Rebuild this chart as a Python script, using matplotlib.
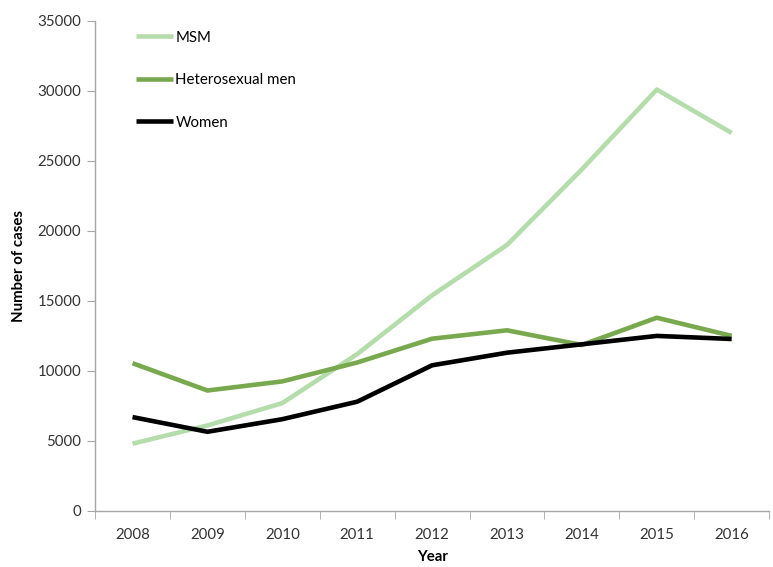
import matplotlib.pyplot as plt
from matplotlib.ticker import FixedLocator

years = ["2008", "2009", "2010", "2011", "2012", "2013", "2014", "2015", "2016"]
msm = [4800, 6100, 7700, 11200, 15400, 19000, 24400, 30100, 27000]
hetero_men = [10550, 8600, 9250, 10600, 12300, 12900, 11850, 13800, 12500]
women = [6700, 5650, 6550, 7800, 10400, 11300, 11900, 12500, 12280]

plt.rcParams.update({
    "font.family": ["Lato", "DejaVu Sans"],
    "font.size": 10.8,
})

fig, ax = plt.subplots(figsize=(7.73, 5.67), dpi=100)
fig.subplots_adjust(left=0.123, right=0.995, top=0.963, bottom=0.099)

x = list(range(len(years)))
base = dict(linewidth=3.3, solid_capstyle="butt", solid_joinstyle="round")

ax.plot(x, msm, color="#b5dcab", label="MSM", **base)
ax.plot(x, hetero_men, color="#79a94f", label="Heterosexual men", **base)
ax.plot(x, women, color="#000000", label="Women", **base)

ax.set_xlim(-0.5, len(years) - 0.5)
ax.set_ylim(0, 35000)
ax.set_yticks(range(0, 35001, 5000))
ax.set_xticks(x)
ax.set_xticklabels(years)
ax.xaxis.set_minor_locator(FixedLocator([i - 0.5 for i in range(len(years) + 1)]))

for s in ["top", "right"]:
    ax.spines[s].set_visible(False)
for s in ["left", "bottom"]:
    ax.spines[s].set_color("#a6a6a6")
    ax.spines[s].set_linewidth(1.0)

ax.tick_params(axis="x", which="major", length=0, pad=12, labelcolor="#333333")
ax.tick_params(axis="x", which="minor", length=6, color="#a6a6a6", direction="out")
ax.tick_params(axis="y", length=6, color="#a6a6a6", direction="out", pad=4, labelcolor="#333333")

ax.set_xlabel("Year", fontweight="bold", labelpad=6)
ax.set_ylabel("Number of cases", fontweight="bold", labelpad=8)

ax.legend(loc="upper left", bbox_to_anchor=(0.04, 1.008), frameon=False,
          handlelength=2.5, handletextpad=0.15, labelspacing=1.9)

fig.savefig("out.png")
